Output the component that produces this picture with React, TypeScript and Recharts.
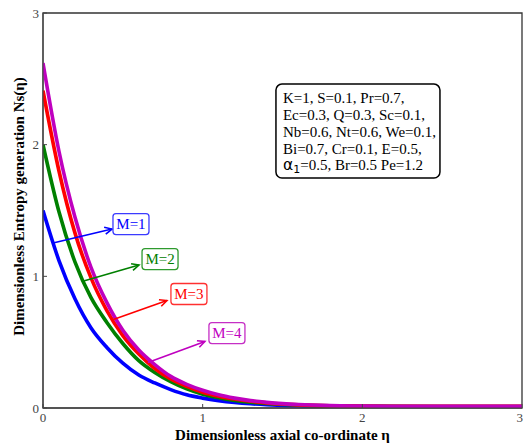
import {
  Label,
  Line,
  LineChart,
  ReferenceArea,
  ReferenceDot,
  ReferenceLine,
  XAxis,
  YAxis,
} from "recharts";

// axial co-ordinate samples
const eta = [
  0, 0.1, 0.2, 0.3, 0.4, 0.5, 0.6, 0.7, 0.8, 0.9, 1.0, 1.1, 1.2, 1.3, 1.4,
  1.5, 1.6, 1.8, 2.0, 2.2, 2.5, 2.8, 3.0,
];

// entropy generation Ns(eta) for each magnetic parameter M
const nsM1 = [
  1.5, 1.12, 0.83, 0.61, 0.46, 0.34, 0.25, 0.19, 0.14, 0.1, 0.075, 0.056,
  0.042, 0.032, 0.025, 0.02, 0.017, 0.013, 0.011, 0.01, 0.01, 0.01, 0.01,
];
const nsM2 = [
  2.0, 1.49, 1.11, 0.84, 0.65, 0.49, 0.36, 0.27, 0.2, 0.145, 0.105, 0.078,
  0.058, 0.044, 0.034, 0.027, 0.022, 0.016, 0.013, 0.012, 0.011, 0.011, 0.011,
];
const nsM3 = [
  2.41, 1.8, 1.33, 0.99, 0.74, 0.55, 0.41, 0.3, 0.22, 0.165, 0.12, 0.09,
  0.068, 0.051, 0.039, 0.03, 0.024, 0.017, 0.014, 0.012, 0.012, 0.012, 0.012,
];
const nsM4 = [
  2.62, 1.95, 1.45, 1.07, 0.8, 0.59, 0.44, 0.33, 0.24, 0.18, 0.135, 0.1,
  0.075, 0.056, 0.043, 0.033, 0.026, 0.018, 0.015, 0.013, 0.013, 0.013, 0.013,
];

const xTicks = [0, 1, 2, 3];
const yTicks = [0, 1, 2, 3];

const paramLines = [
  "K=1, S=0.1, Pr=0.7,",
  "Ec=0.3, Q=0.3, Sc=0.1,",
  "Nb=0.6, Nt=0.6, We=0.1,",
  "Bi=0.7, Cr=0.1, E=0.5,",
];

const data = eta.map((x, i) => ({
  eta: x,
  m1: nsM1[i],
  m2: nsM2[i],
  m3: nsM3[i],
  m4: nsM4[i],
}));

const series = [
  { key: "m1", label: "M=1", color: "#0000ff", box: "#3b3bff" },
  { key: "m2", label: "M=2", color: "#008000", box: "#2e9a2e" },
  { key: "m3", label: "M=3", color: "#ff0000", box: "#ff3030" },
  { key: "m4", label: "M=4", color: "#bf00bf", box: "#c52fc5" },
];

// arrow from a curve to its tag, and tag centre, in data units
const tags = [
  { from: [0.063, 1.253], to: [0.432, 1.359], at: [0.551, 1.397] },
  { from: [0.244, 0.96], to: [0.601, 1.086], at: [0.733, 1.131] },
  { from: [0.432, 0.668], to: [0.776, 0.816], at: [0.914, 0.866] },
  { from: [0.657, 0.345], to: [1.014, 0.505], at: [1.152, 0.569] },
];

const serif = "'Liberation Serif', 'Times New Roman', serif";
const sans = "'DejaVu Sans', sans-serif";

function arrowShape(color: string) {
  return (p: any) => {
    const { x1, y1, x2, y2 } = p;
    const a = Math.atan2(y2 - y1, x2 - x1);
    const h = 8;
    const w = 0.45;
    const ax = x2 - h * Math.cos(a - w);
    const ay = y2 - h * Math.sin(a - w);
    const bx = x2 - h * Math.cos(a + w);
    const by = y2 - h * Math.sin(a + w);
    return (
      <g>
        <line x1={x1} y1={y1} x2={x2} y2={y2} stroke={color} strokeWidth={1.6} />
        <polyline
          points={`${ax},${ay} ${x2},${y2} ${bx},${by}`}
          fill="none"
          stroke={color}
          strokeWidth={1.6}
        />
      </g>
    );
  };
}

function tagShape(text: string, color: string, box: string) {
  return (p: any) => {
    const { cx, cy } = p;
    return (
      <g>
        <rect
          x={cx - 18}
          y={cy - 10.5}
          width={36}
          height={21}
          rx={3}
          fill="#fff"
          stroke={box}
          strokeWidth={1.3}
        />
        <text
          x={cx}
          y={cy + 5}
          textAnchor="middle"
          fontFamily={serif}
          fontSize={15}
          fill={color}
        >
          {text}
        </text>
      </g>
    );
  };
}

function paramBox(p: any) {
  const { cx, cy } = p;
  const base = (i: number) => cy + 19 + i * 16.8;
  return (
    <g>
      <rect
        x={cx}
        y={cy}
        width={164}
        height={94}
        rx={6}
        fill="#fff"
        stroke="#000"
        strokeWidth={1.5}
      />
      <text fontFamily={serif} fontSize={15} fill="#000">
        {paramLines.map((t, i) => (
          <tspan key={i} x={cx + 7} y={base(i)}>
            {t}
          </tspan>
        ))}
      </text>
      <text x={cx + 7} y={base(4)} fontFamily={serif} fontSize={15} fill="#000">
        <tspan fontFamily={sans} fontSize={15.5}>
          α
        </tspan>
        <tspan fontFamily={sans} fontSize={11} dy={3}>
          1
        </tspan>
        <tspan dy={-3}>=0.5, Br=0.5 Pe=1.2</tspan>
      </text>
    </g>
  );
}

export default function App() {
  return (
    <div style={{ position: "absolute", left: 0, top: 0, background: "#fff" }}>
      <LineChart
        width={523}
        height={446}
        data={data}
        margin={{ top: 13, right: 1, bottom: 13, left: 8 }}
      >
        <XAxis
          dataKey="eta"
          type="number"
          domain={[0, 3]}
          ticks={xTicks}
          allowDataOverflow
          tickSize={-4}
          tickMargin={9}
          height={25}
          stroke="#444"
          tick={{ fill: "#444", fontSize: 13, fontFamily: serif }}
        >
          <Label
            content={(p: any) => (
              <text
                x={p.viewBox.x + p.viewBox.width / 2}
                y={440}
                textAnchor="middle"
                fontFamily={serif}
                fontWeight="bold"
                fontSize={15}
                fill="#000"
              >
                Dimensionless axial co-ordinate η
              </text>
            )}
          />
        </XAxis>
        <YAxis
          type="number"
          domain={[0, 3]}
          ticks={yTicks}
          allowDataOverflow
          tickSize={-4}
          tickMargin={8}
          width={35}
          stroke="#444"
          tick={{ fill: "#444", fontSize: 13, fontFamily: serif }}
        >
          <Label
            content={() => (
              <text
                x={24}
                y={206.5}
                transform="rotate(-90, 24, 206.5)"
                textAnchor="middle"
                fontFamily={serif}
                fontWeight="bold"
                fontSize={15}
                fill="#000"
              >
                Dimensionless Entropy generation Ns(η)
              </text>
            )}
          />
        </YAxis>
        <ReferenceArea
          x1={0}
          x2={3}
          y1={0}
          y2={3}
          fill="none"
          stroke="#333"
          strokeWidth={1.3}
          fillOpacity={0}
        />
        {series.map((s) => (
          <Line
            key={s.key}
            dataKey={s.key}
            type="monotone"
            stroke={s.color}
            strokeWidth={3.6}
            dot={false}
            isAnimationActive={false}
          />
        ))}
        {tags.map((t, i) => (
          <ReferenceLine
            key={`a${i}`}
            segment={[
              { x: t.from[0], y: t.from[1] },
              { x: t.to[0], y: t.to[1] },
            ]}
            ifOverflow="visible"
            shape={arrowShape(series[i].color)}
          />
        ))}
        {tags.map((t, i) => (
          <ReferenceDot
            key={`t${i}`}
            x={t.at[0]}
            y={t.at[1]}
            ifOverflow="visible"
            shape={tagShape(series[i].label, series[i].color, series[i].box)}
          />
        ))}
        <ReferenceDot x={1.459} y={2.46} ifOverflow="visible" shape={paramBox} />
      </LineChart>
    </div>
  );
}
